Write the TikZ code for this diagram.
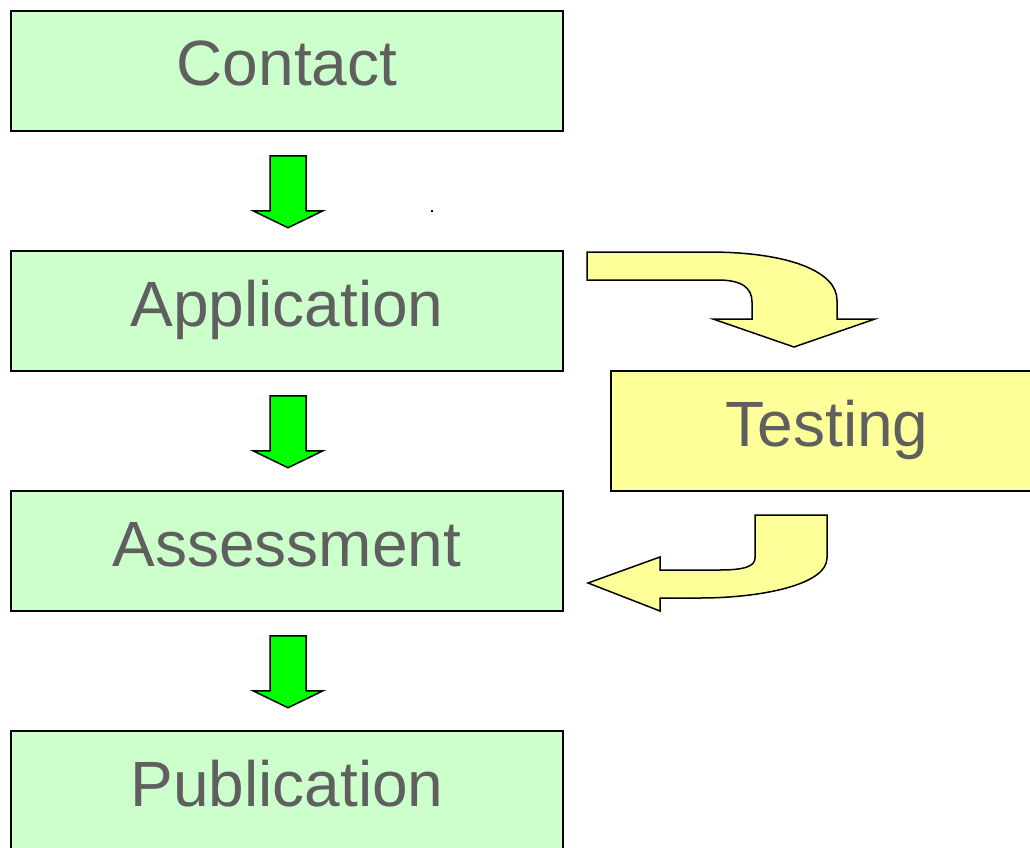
\documentclass[tikz,border=0pt]{standalone}
\usepackage{fontspec}
\setmainfont{Liberation Sans}
\usetikzlibrary{calc}
\definecolor{boxgreen}{HTML}{CCFFCC}
\definecolor{arrgreen}{HTML}{00FF00}
\definecolor{boxyellow}{HTML}{FFFF99}
\definecolor{txtgray}{HTML}{5F5F5F}
\tikzset{
  stagebox/.style={draw=black, line width=1.5pt, fill=boxgreen, minimum width=552pt, minimum height=120pt,
    inner sep=0pt, text height=45pt, text depth=15pt, text=txtgray, font=\fontsize{64}{76}\selectfont},
  testbox/.style={stagebox, fill=boxyellow, minimum width=432pt},
  downarr/.style={draw=black, line width=1.5pt, fill=arrgreen, line join=miter},
  bendarr/.style={draw=black, line width=1.5pt, fill=boxyellow, line join=miter},
}
\begin{document}
\begin{tikzpicture}[x=1pt,y=-1pt]
\useasboundingbox (0,0) rectangle (1030,848);
\clip (0,0) rectangle (1030,848);
\node[stagebox] (contact) at (287,71) {Contact};
\node[stagebox] (application) at (287,311) {Application};
\node[stagebox] (assessment) at (287,551) {Assessment};
\node[stagebox] (publication) at (287,791) {Publication};
\node[testbox] (testing) at (827,431) {Testing};
% green down arrows
\foreach \a/\b in {contact/application, application/assessment, assessment/publication}{
  \path ($(\a.south)+(1,24)$) coordinate (t);
  \draw[downarr] (t) ++(-18,0) -- ++(36,0) -- ++(0,55) -- ++(17,0) -- ($(t)+(0,72)$) -- ($(t)+(-35,55)$) -- ($(t)+(-18,55)$) -- cycle;
}
% dot
\fill[black] (430.5,209.5) rectangle (433,212);
% bent arrow from application to testing
\coordinate (b1) at (587,252);
\draw[bendarr] (b1) -- (708,252) .. controls (790,252) and (837,272) .. (837,300) -- (837,319)
  -- (875,319) -- (794,347) -- (713,319) -- (752,319) -- (752,302)
  .. controls (752,288) and (742,280) .. (718,280) -- (587,280) -- cycle;
% bent arrow from testing back to assessment
\coordinate (b2) at (827,515);
\draw[bendarr] (b2) -- (827,558) .. controls (827,585) and (760,598) .. (700,598) -- (660,598)
  -- (660,611) -- (588,583) -- (660,557) -- (660,570) -- (720,570)
  .. controls (745,570) and (755,566) .. (755,558) -- (755,515) -- cycle;
\end{tikzpicture}
\end{document}
